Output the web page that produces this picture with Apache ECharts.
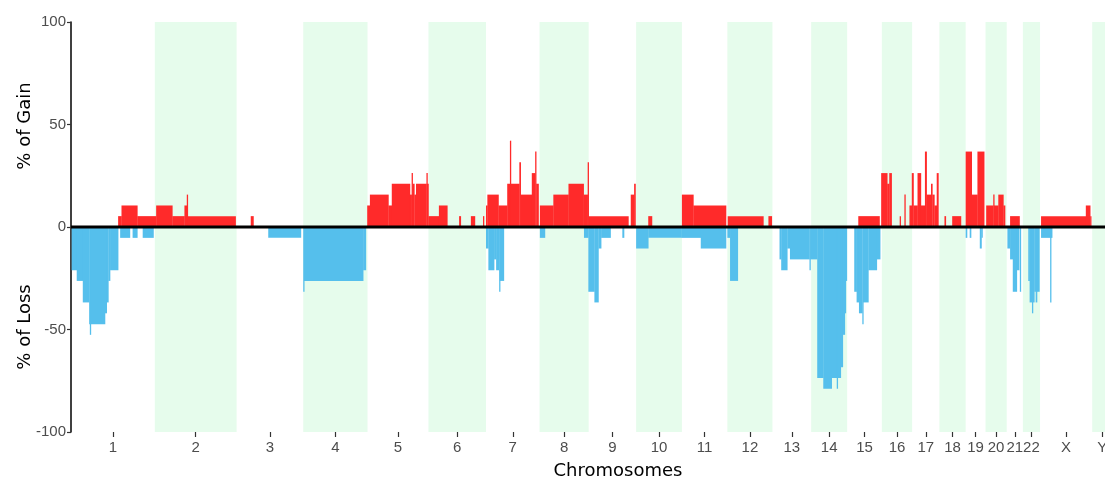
<!DOCTYPE html>
<html><head><meta charset="utf-8">
<script src="https://cdn.jsdelivr.net/npm/echarts@6/dist/echarts.min.js"></script>
<style>html,body{margin:0;padding:0;background:#fff}#c{width:1105px;height:479px}</style>
</head><body><div id="c"></div>
<script>
// Chromosome names and lengths (Mb)
const chromNames = ['1','2','3','4','5','6','7','8','9','10','11','12','13','14','15','16','17','18','19','20','21','22','X','Y'];
const chromLengths = [249,243,198,191,181,171,159,146,141,136,135,134,115,107,103,90,81,78,59,63,48,51,155,59];
const yTicks = [-100, -50, 0, 50, 100];

// Gain segments: [start Mb (genome-wide), end Mb, % of gain]
const gainSegments = [
  [140,150,5.3],[150,197,10.5],[197,253,5.3],
  [253,301,10.5],[301,337,5.3],[337,344,10.5],[344,345,15.8],[345,489,5.3],
  [534,542,5.3],
  [880,888,10.5],[888,943,15.8],[943,953,10.5],[953,1007,21.1],[1007,1012,15.8],[1012,1013,26.3],[1013,1014,15.8],
  [1014,1020,21.1],[1020,1025,15.8],[1025,1056,21.1],[1056,1057,26.3],[1057,1062,21.1],
  [1062,1093,5.3],[1093,1118,10.5],[1153,1158,5.3],[1188,1200,5.3],[1224,1226,5.3],
  [1233,1237,10.5],[1237,1270,15.8],[1270,1296,10.5],[1296,1304,21.1],[1304,1307,42.1],[1307,1332,21.1],
  [1332,1336,31.6],[1336,1369,15.8],[1369,1379,26.3],[1379,1382,36.8],[1382,1389,21.1],
  [1393,1433,10.5],[1433,1478,15.8],[1478,1523,21.1],[1523,1535,15.8],[1535,1538,31.6],
  [1538,1656,5.3],[1663,1673,15.8],[1673,1677,21.1],
  [1715,1726,5.3],
  [1815,1849,15.8],[1849,1946,10.5],
  [1951,2057,5.3],[2072,2082,5.3],
  [2339,2402,5.3],
  [2407,2425,26.3],[2425,2431,21.1],[2431,2438,26.3],[2462,2464,5.3],[2476,2479,15.8],
  [2491,2498,10.5],[2498,2503,26.3],[2503,2515,10.5],[2515,2525,26.3],[2525,2537,10.5],[2537,2542,36.8],
  [2542,2555,15.8],[2555,2559,21.1],[2559,2565,15.8],[2565,2572,10.5],[2572,2577,26.3],
  [2595,2599,5.3],[2618,2644,5.3],
  [2658,2676,36.8],[2676,2693,15.8],[2693,2713,36.8],
  [2719,2740,10.5],[2740,2742,15.8],[2742,2755,10.5],[2755,2770,15.8],[2770,2775,10.5],
  [2790,2818,5.3],
  [2882,3015,5.3],[3015,3028,10.5],[3028,3031,5.3]
];

// Loss segments: [start Mb, end Mb, -% of loss]
const lossSegments = [
  [2,17,-21.1],[17,35,-26.3],[35,54,-36.8],[54,56,-47.4],[56,59,-52.6],[59,101,-47.4],[101,106,-42.1],
  [106,111,-36.8],[111,116,-26.3],[116,140,-21.1],
  [146,175,-5.3],[183,197,-5.3],[213,245,-5.3],
  [586,683,-5.3],
  [690,692,-31.6],[692,868,-26.3],[868,876,-21.1],
  [1233,1240,-10.5],[1240,1257,-21.1],[1257,1263,-15.8],[1263,1272,-21.1],[1272,1274,-31.6],[1274,1286,-26.3],
  [1393,1408,-5.3],[1524,1537,-5.3],
  [1537,1555,-31.6],[1555,1567,-36.8],[1567,1575,-10.5],[1575,1603,-5.3],[1638,1643,-5.3],
  [1679,1715,-10.5],[1715,1814,-5.3],
  [1814,1871,-5.3],[1871,1946,-10.5],
  [1950,1958,-5.3],[1958,1981,-26.3],
  [2105,2110,-15.8],[2110,2128,-21.1],[2128,2136,-10.5],[2136,2194,-15.8],[2194,2196,-21.1],
  [2196,2217,-15.8],[2217,2235,-73.7],[2235,2260,-78.9],[2260,2275,-73.7],[2275,2278,-78.9],[2278,2287,-73.7],
  [2287,2293,-68.4],[2293,2299,-52.6],[2299,2302,-42.1],[2302,2304,-26.3],
  [2327,2334,-31.6],[2334,2341,-36.8],[2341,2351,-42.1],[2351,2353,-47.4],[2353,2369,-36.8],[2369,2394,-21.1],[2394,2404,-15.8],
  [2658,2662,-5.3],[2670,2674,-5.3],[2700,2705,-10.5],[2705,2708,-5.3],
  [2782,2790,-10.5],[2790,2798,-15.8],[2798,2810,-31.6],[2810,2817,-21.1],[2819,2821,-31.6],
  [2844,2848,-26.3],[2848,2855,-36.8],[2855,2857,-42.1],[2857,2862,-36.8],[2862,2866,-31.6],[2866,2870,-36.8],[2870,2877,-31.6],
  [2882,2915,-5.3],[2909,2911,-36.8]
];

// derived chromosome offsets / midpoints
const chromStarts = [];
let acc = 0;
chromLengths.forEach(l => { chromStarts.push(acc); acc += l; });
const chromMids = chromStarts.map((s, i) => s + chromLengths[i] / 2);
const bandData = chromStarts.map((s, i) => [s, s + chromLengths[i]]).filter((d, i) => i % 2 === 1);
const xMax = 3072;

const chart = echarts.init(document.getElementById('c'));

function rectItem(params, api) {
  const a = api.coord([api.value(0), 0]);
  const b = api.coord([api.value(1), api.value(2)]);
  const w = Math.max(b[0] - a[0], 1);
  return {
    type: 'rect',
    shape: { x: a[0], y: Math.min(a[1], b[1]), width: w + 0.3, height: Math.abs(b[1] - a[1]) },
    style: { fill: api.visual('color') }
  };
}

chart.setOption({
  animation: false,
  grid: { left: 71, right: 0, top: 22, bottom: 47, containLabel: false, outerBoundsMode: 'none' },
  xAxis: {
    type: 'value', min: 0, max: xMax,
    axisLine: { show: false, onZero: false },
    splitLine: { show: false },
    axisTick: { show: true, customValues: chromMids, length: 5, lineStyle: { color: '#333', width: 1.2 } },
    axisLabel: {
      show: true, customValues: chromMids, color: '#4d4d4d', fontSize: 15, margin: 8,
      fontFamily: 'Liberation Sans, Arial, sans-serif', hideOverlap: false,
      formatter: function (v) {
        let best = 0, bd = Infinity;
        chromMids.forEach((m, i) => { const d = Math.abs(m - v); if (d < bd) { bd = d; best = i; } });
        return chromNames[best];
      }
    }
  },
  yAxis: {
    type: 'value', min: yTicks[0], max: yTicks[yTicks.length - 1], interval: 50,
    axisLine: { show: true, onZero: false, lineStyle: { color: '#000', width: 1.5 } },
    axisTick: { show: true, length: 4, lineStyle: { color: '#333', width: 1.2 } },
    splitLine: { show: false },
    axisLabel: { color: '#4d4d4d', fontSize: 15, margin: 5, fontFamily: 'Liberation Sans, Arial, sans-serif' }
  },
  graphic: [
    { type: 'text', x: 25, y: 126, rotation: Math.PI / 2,
      style: { text: '% of Gain', fill: '#000', font: '18px "DejaVu Sans"', textAlign: 'center', textVerticalAlign: 'middle' } },
    { type: 'text', x: 25, y: 327, rotation: Math.PI / 2,
      style: { text: '% of Loss', fill: '#000', font: '18px "DejaVu Sans"', textAlign: 'center', textVerticalAlign: 'middle' } },
    { type: 'text', x: 618, y: 471,
      style: { text: 'Chromosomes', fill: '#000', font: '18px "DejaVu Sans"', textAlign: 'center', textVerticalAlign: 'middle' } }
  ],
  series: [
    {
      type: 'custom', z: 1, silent: true,
      data: bandData,
      renderItem: function (params, api) {
        const a = api.coord([api.value(0), 100]);
        const b = api.coord([api.value(1), -100]);
        return { type: 'rect', shape: { x: a[0], y: a[1], width: b[0] - a[0], height: b[1] - a[1] }, style: { fill: '#e6fcec' } };
      },
      encode: { x: [0, 1] }
    },
    {
      type: 'custom', z: 2, silent: true, itemStyle: { color: '#ff2a2a' },
      data: gainSegments, renderItem: rectItem, encode: { x: [0, 1], y: 2 }
    },
    {
      type: 'custom', z: 2, silent: true, itemStyle: { color: '#55bfec' },
      data: lossSegments, renderItem: rectItem, encode: { x: [0, 1], y: 2 }
    },
    {
      type: 'line', z: 5, silent: true, symbol: 'none',
      lineStyle: { color: '#000', width: 3 },
      data: [[0, 0], [xMax, 0]]
    }
  ]
});
</script></body></html>
